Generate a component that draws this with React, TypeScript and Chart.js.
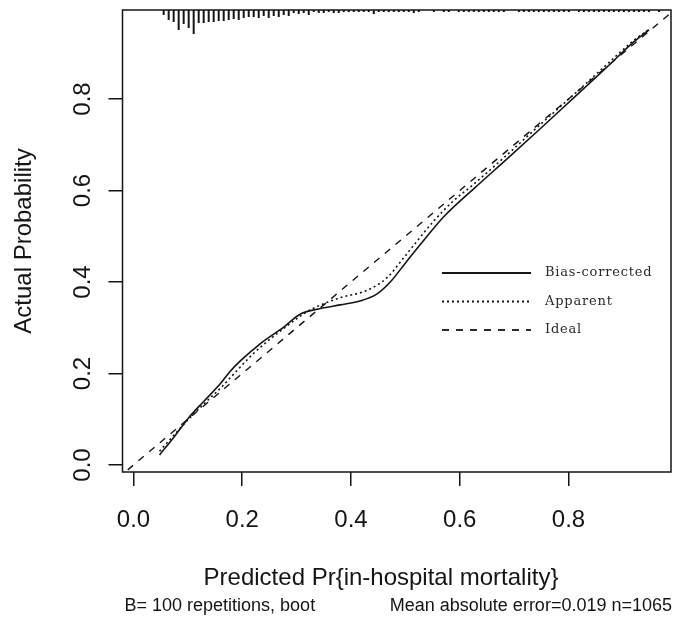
import { useEffect, useRef } from "react";
import { Chart, registerables } from "chart.js";

Chart.register(...registerables);

// ---------- data ----------
const xTicks = [0, 0.2, 0.4, 0.6, 0.8];
const xTickLabels = ["0.0", "0.2", "0.4", "0.6", "0.8"];
const yTicks = [0, 0.2, 0.4, 0.6, 0.8];
const yTickLabels = ["0.0", "0.2", "0.4", "0.6", "0.8"];

const biasX = [0.048, 0.075, 0.102, 0.13, 0.16, 0.178, 0.197, 0.234, 0.277, 0.307, 0.344, 0.38, 0.418, 0.448, 0.473, 0.503, 0.54, 0.571, 0.626, 0.687, 0.748, 0.81, 0.871, 0.92, 0.948];
const biasY = [0.022, 0.062, 0.104, 0.14, 0.178, 0.205, 0.228, 0.266, 0.302, 0.33, 0.342, 0.35, 0.359, 0.374, 0.401, 0.446, 0.5, 0.543, 0.604, 0.669, 0.735, 0.803, 0.87, 0.925, 0.951];

const apparentX = [0.048, 0.075, 0.102, 0.13, 0.16, 0.19, 0.22, 0.25, 0.28, 0.31, 0.33, 0.355, 0.381, 0.43, 0.467, 0.491, 0.522, 0.552, 0.589, 0.626, 0.687, 0.748, 0.81, 0.871, 0.92, 0.948];
const apparentY = [0.03, 0.066, 0.101, 0.134, 0.168, 0.206, 0.243, 0.274, 0.302, 0.328, 0.342, 0.355, 0.366, 0.382, 0.41, 0.444, 0.49, 0.533, 0.578, 0.614, 0.678, 0.744, 0.81, 0.876, 0.928, 0.952];

const idealX = [-0.05, 1.05];
const idealY = [-0.05, 1.05];

// distribution of predicted risk (spike heights), 100 bins
const rugStart = 0.0555;
const rugStep = 0.0092;
const rugHeights = [
  5, 10, 12, 20, 14, 18, 24, 13, 13, 12, 12, 11, 11, 10, 9, 10, 8, 7, 7, 8, 6, 8, 6, 7, 5, 6, 3, 4,
  3, 5, 2, 3, 3, 2, 3, 3, 2, 2, 2, 2, 2, 2, 4, 2, 2, 2, 2, 2, 2, 2, 3, 2,
  0, 0, 2, 0, 2, 2, 0, 2, 2, 2, 2, 2, 2, 2,
  2, 2, 2, 0, 0, 2, 2, 2, 2, 2, 2, 2, 2, 2, 2, 2, 0, 2, 2, 2, 2, 2, 2, 2, 2, 2, 2, 2, 2, 2, 2, 2, 0, 2,
];

const legendLabels = ["Bias-corrected", "Apparent", "Ideal"];
const xTitle = "Predicted Pr{in-hospital mortality}";
const yTitle = "Actual Probability";
const subLeft = "B= 100 repetitions, boot";
const subRight = "Mean absolute error=0.019 n=1065";

const X_MIN = -0.0202;
const X_MAX = 0.9885;
const Y_MIN = -0.0153;
const Y_MAX = 0.9945;

const INK = "#151515";
const SANS = '"Liberation Sans", Arial, sans-serif';

function pts(xs: number[], ys: number[]) {
  return xs.map((x, i) => ({ x, y: ys[i] }));
}

function rugPoints() {
  const out: { x: number; y: number | null }[] = [];
  const unit = (Y_MAX - Y_MIN) / 462; // data units per spike unit
  rugHeights.forEach((h, i) => {
    if (h <= 0) return;
    const x = rugStart + i * rugStep;
    out.push({ x, y: Y_MAX });
    out.push({ x, y: Y_MAX - h * unit });
    out.push({ x, y: null });
  });
  return out;
}

const decorPlugin = {
  id: "decor",
  afterDraw(chart: any) {
    const { ctx, chartArea: a, scales } = chart;
    const xs = scales.x;
    const ys = scales.y;
    ctx.save();
    // box
    ctx.strokeStyle = INK;
    ctx.lineWidth = 1.5;
    ctx.setLineDash([]);
    ctx.strokeRect(a.left, a.top, a.right - a.left, a.bottom - a.top);

    // tick labels
    ctx.fillStyle = INK;
    ctx.font = `24px ${SANS}`;
    ctx.textAlign = "center";
    ctx.textBaseline = "middle";
    xTicks.forEach((v, i) => {
      ctx.fillText(xTickLabels[i], xs.getPixelForValue(v), a.bottom + 48);
    });
    yTicks.forEach((v, i) => {
      ctx.save();
      ctx.translate(a.left - 39, ys.getPixelForValue(v));
      ctx.rotate(-Math.PI / 2);
      ctx.fillText(yTickLabels[i], 0, 0);
      ctx.restore();
    });

    // axis titles
    ctx.fillText(xTitle, 381, a.bottom + 106);
    ctx.save();
    ctx.translate(24, (a.top + a.bottom) / 2);
    ctx.rotate(-Math.PI / 2);
    ctx.fillText(yTitle, 0, 0);
    ctx.restore();

    // subtitles
    ctx.font = `18px ${SANS}`;
    ctx.textAlign = "left";
    ctx.fillText(subLeft, a.left + 2, 606);
    ctx.textAlign = "right";
    ctx.fillText(subRight, a.right + 1, 606);

    // legend
    const ds = chart.data.datasets;
    const rows = [273, 301.5, 330];
    ctx.font = '13px "DejaVu Serif", "Liberation Serif", serif';
    try {
      (ctx as any).letterSpacing = "0.8px";
    } catch (e) {
      /* ignore */
    }
    ctx.textAlign = "left";
    for (let i = 0; i < 3; i++) {
      const d = ds[i];
      ctx.beginPath();
      ctx.strokeStyle = d.borderColor;
      ctx.lineWidth = i === 0 ? 2 : 1.8;
      ctx.setLineDash(d.borderDash || []);
      ctx.moveTo(442, rows[i]);
      ctx.lineTo(531, rows[i]);
      ctx.stroke();
      ctx.setLineDash([]);
      ctx.fillStyle = "#2a2a2a";
      ctx.fillText(legendLabels[i], 545, rows[i]);
    }
    ctx.restore();
  },
};

export default function App() {
  const ref = useRef<HTMLCanvasElement | null>(null);

  useEffect(() => {
    document.body.style.margin = "0";
    const canvas = ref.current;
    if (!canvas) return;
    const chart = new Chart(canvas, {
      type: "scatter",
      data: {
        datasets: [
          {
            label: legendLabels[0],
            data: pts(biasX, biasY),
            showLine: true,
            borderColor: INK,
            borderWidth: 1.6,
            pointRadius: 0,
            cubicInterpolationMode: "monotone",
          },
          {
            label: legendLabels[1],
            data: pts(apparentX, apparentY),
            showLine: true,
            borderColor: INK,
            borderWidth: 1.6,
            borderDash: [2, 3],
            pointRadius: 0,
            cubicInterpolationMode: "monotone",
          },
          {
            label: legendLabels[2],
            data: pts(idealX, idealY),
            showLine: true,
            borderColor: INK,
            borderWidth: 1.4,
            borderDash: [7, 7],
            pointRadius: 0,
          },
          {
            label: "rug",
            data: rugPoints() as any,
            showLine: true,
            spanGaps: false,
            borderColor: INK,
            borderWidth: 2,
            pointRadius: 0,
          },
        ],
      },
      options: {
        animation: false,
        responsive: false,
        devicePixelRatio: 1,
        layout: { padding: { top: 10, right: 4, left: 0, bottom: 0 } },
        plugins: {
          legend: { display: false },
          tooltip: { enabled: false },
        },
        scales: {
          x: {
            type: "linear",
            min: X_MIN,
            max: X_MAX,
            afterBuildTicks: (s: any) => {
              s.ticks = xTicks.map((v) => ({ value: v }));
            },
            afterFit: (s: any) => {
              s.height = 145;
            },
            ticks: { display: false },
            grid: {
              drawOnChartArea: false,
              drawTicks: true,
              tickLength: 14,
              color: INK,
              lineWidth: 1.5,
            },
            border: { display: false },
          },
          y: {
            type: "linear",
            min: Y_MIN,
            max: Y_MAX,
            afterBuildTicks: (s: any) => {
              s.ticks = yTicks.map((v) => ({ value: v }));
            },
            afterFit: (s: any) => {
              s.width = 122.5;
            },
            ticks: { display: false },
            grid: {
              drawOnChartArea: false,
              drawTicks: true,
              tickLength: 14,
              color: INK,
              lineWidth: 1.5,
            },
            border: { display: false },
          },
        },
      },
      plugins: [decorPlugin],
    });
    return () => chart.destroy();
  }, []);

  return (
    <div style={{ width: 675, height: 617, background: "#fff" }}>
      <canvas ref={ref} width={675} height={617} style={{ display: "block", width: 675, height: 617 }} />
    </div>
  );
}
